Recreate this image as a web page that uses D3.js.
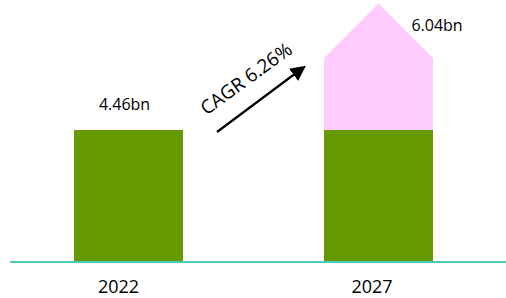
<!DOCTYPE html>
<html>
<head>
	<script src="https://d3js.org/d3.v7.min.js"></script>
	<meta charset="UTF-8">
	<style>
		body{ margin:0; background:#fff; }
		text{ font-family: "Open Sans", "Noto Sans", sans-serif; fill:#000; }
	</style>
</head>
<body>
	<div class="chart"></div>
	<script type="text/javascript">
		var years = ["2022", "2027"];
		var values = [4.46, 6.04];
		var valueLabels = ["4.46bn", "6.04bn"];
		var cagrLabel = "CAGR 6.26%";

		var w = 506, h = 298;
		var base = 261;

		var svg = d3.select("div.chart").append("svg")
					.attr("width", w).attr("height", h);

		var xScale = d3.scaleBand()
						.domain(years)
						.range([3.5, 503.5])
						.paddingInner(0.564)
						.paddingOuter(0.282);

		// axis is cut: bars start well above zero
		var yScale = d3.scaleLinear()
						.domain([1.585, 6.04])
						.range([base, 58]);

		var bw = xScale.bandwidth();

		// green part (2022 level) on both bars
		svg.selectAll("rect.base")
		   .data(years)
		   .enter()
		   .append("rect")
		   .attr("class", "base")
		   .attr("x", function(d){ return xScale(d); })
		   .attr("y", yScale(values[0]))
		   .attr("width", bw)
		   .attr("height", base - yScale(values[0]))
		   .attr("fill", "#669900");

		// pink growth part, house shaped
		var x1 = xScale(years[1]);
		var yTop = yScale(values[1]);
		var yLow = yScale(values[0]);
		svg.append("path")
		   .attr("d", "M" + x1 + "," + yLow +
		   		" L" + x1 + "," + yTop +
		   		" L" + (x1 + bw / 2) + "," + (yTop - bw / 2) +
		   		" L" + (x1 + bw) + "," + yTop +
		   		" L" + (x1 + bw) + "," + yLow + " Z")
		   .attr("fill", "#ffccff");

		// baseline
		svg.append("line")
		   .attr("x1", 10).attr("x2", w)
		   .attr("y1", base + 1).attr("y2", base + 1)
		   .attr("stroke", "#4fc8b8").attr("stroke-width", 2);

		// value labels
		svg.append("text")
		   .attr("x", xScale(years[0]) + bw / 2 - 4)
		   .attr("y", yScale(values[0]) - 20)
		   .attr("text-anchor", "middle")
		   .style("font-size", "16px")
		   .text(valueLabels[0]);

		svg.append("text")
		   .attr("x", x1 + bw + 4)
		   .attr("y", yTop - 27)
		   .attr("text-anchor", "middle")
		   .style("font-size", "16px")
		   .text(valueLabels[1]);

		// year labels
		svg.selectAll("text.year")
		   .data(years)
		   .enter()
		   .append("text")
		   .attr("class", "year")
		   .attr("x", function(d, i){ return xScale(d) + bw / 2 - (i ? 6.5 : 10); })
		   .attr("y", 293)
		   .attr("text-anchor", "middle")
		   .style("font-size", "18px")
		   .text(function(d){ return d; });

		// CAGR arrow
		svg.append("defs").append("marker")
		   .attr("id", "head")
		   .attr("viewBox", "0 0 10 10")
		   .attr("refX", 2).attr("refY", 5)
		   .attr("markerWidth", 7).attr("markerHeight", 7)
		   .attr("orient", "auto")
		   .append("path")
		   .attr("d", "M0,0 L10,5 L0,10 Z")
		   .attr("fill", "#000");

		svg.append("line")
		   .attr("x1", 217).attr("y1", 132)
		   .attr("x2", 296).attr("y2", 73)
		   .attr("stroke", "#000").attr("stroke-width", 2.2)
		   .attr("marker-end", "url(#head)");

		svg.append("text")
		   .attr("transform", "translate(250,84) rotate(-36)")
		   .attr("text-anchor", "middle")
		   .style("font-size", "19px")
		   .text(cagrLabel);
	</script>
</body>
</html>
